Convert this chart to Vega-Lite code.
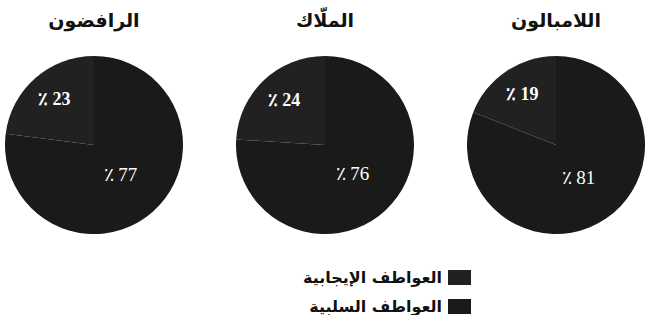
{
  "$schema": "https://vega.github.io/schema/vega-lite/v6.json",
  "padding": {"left": 5, "top": 12, "right": 0, "bottom": 0},
  "background": "white",
  "data": {"values": [
    {"group": "الرافضون", "category": "العواطف الإيجابية", "value": 23, "label": "٪ 23"},
    {"group": "الرافضون", "category": "العواطف السلبية", "value": 77, "label": "٪ 77"},
    {"group": "الملّاك", "category": "العواطف الإيجابية", "value": 24, "label": "٪ 24"},
    {"group": "الملّاك", "category": "العواطف السلبية", "value": 76, "label": "٪ 76"},
    {"group": "اللامبالون", "category": "العواطف الإيجابية", "value": 19, "label": "٪ 19"},
    {"group": "اللامبالون", "category": "العواطف السلبية", "value": 81, "label": "٪ 81"}
  ]},
  "facet": {
    "column": {
      "field": "group", "type": "nominal",
      "sort": ["الرافضون", "الملّاك", "اللامبالون"],
      "header": {"title": null, "labelFont": "DejaVu Sans", "labelFontSize": 19, "labelFontWeight": "bold", "labelColor": "#111", "labelPadding": 25}
    }
  },
  "spacing": 53,
  "spec": {
    "width": 178,
    "height": 178,
    "encoding": {
      "theta": {"field": "value", "type": "quantitative", "stack": true},
      "order": {"field": "category", "type": "nominal", "sort": "descending"}
    },
    "layer": [
      {
        "mark": {"type": "arc", "stroke": null},
        "encoding": {
          "color": {
            "field": "category", "type": "nominal",
            "scale": {"domain": ["العواطف الإيجابية", "العواطف السلبية"], "range": ["#212121", "#1a1a1a"]},
            "legend": {
              "title": null, "orient": "none", "legendX": 443, "legendY": 210,
              "direction": "vertical",
              "symbolType": "M-1,-0.65H1V0.65H-1Z", "symbolSize": 529, "symbolStrokeWidth": 0,
              "labelFont": "DejaVu Sans", "labelFontSize": 16, "labelFontWeight": "bold", "labelColor": "#111",
              "labelAlign": "right", "labelOffset": -29, "rowPadding": 9, "padding": 0, "labelLimit": 300
            }
          }
        }
      },
      {
        "mark": {"type": "text", "radius": 60, "font": "Liberation Serif", "fontSize": 18, "fontWeight": "bold", "color": "white"},
        "encoding": {
          "text": {"condition": {"test": "datum.category === 'العواطف الإيجابية'", "field": "label"}, "value": ""}
        }
      },
      {
        "mark": {"type": "text", "radius": 40, "font": "Liberation Serif", "fontSize": 19, "color": "white"},
        "encoding": {
          "text": {"condition": {"test": "datum.category === 'العواطف السلبية'", "field": "label"}, "value": ""}
        }
      }
    ]
  },
  "config": {"view": {"stroke": null}}
}
